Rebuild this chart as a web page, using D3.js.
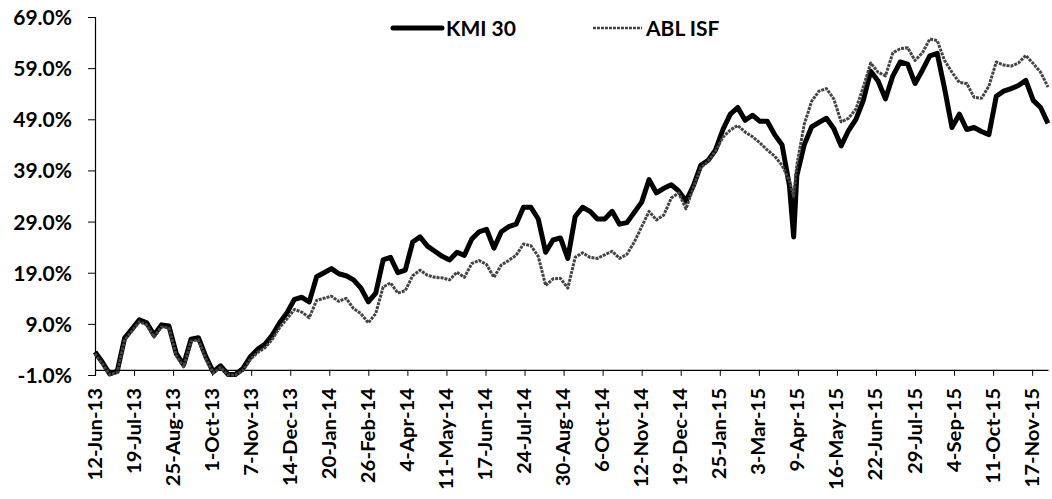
<!DOCTYPE html>
<html>
<head>
<meta charset="utf-8">
<script src="https://cdn.jsdelivr.net/npm/d3@7"></script>
<style>
  body { margin: 0; background: #fff; }
  text { font-family: Lato, "Open Sans", sans-serif; font-weight: bold; fill: #000; }
</style>
</head>
<body>
<script>
// days after 12-Jun-13 for every reading
const dayOffsets = [
  0, 7, 14, 21, 28, 35, 42, 49, 56, 63,
  70, 77, 84, 91, 98, 105, 112, 119, 126, 133,
  140, 147, 154, 161, 168, 175, 182, 189, 196, 203,
  210, 217, 224, 231, 238, 245, 252, 259, 266, 273,
  280, 287, 294, 301, 308, 315, 322, 329, 336, 343,
  350, 357, 364, 371, 378, 385, 392, 399, 406, 413,
  420, 427, 434, 441, 448, 455, 462, 469, 476, 483,
  490, 497, 504, 511, 518, 525, 532, 539, 546, 553,
  560, 567, 574, 581, 588, 595, 602, 609, 616, 623,
  630, 637, 644, 651, 658, 662, 665, 672, 679, 686,
  693, 700, 707, 714, 721, 728, 735, 742, 749, 756,
  763, 770, 777, 784, 791, 798, 805, 812, 819, 826,
  833, 840, 847, 854, 861, 868, 875, 882, 889, 896,
  903
];

// cumulative return, %
const kmi30 = [
  3.5, 1.5, -0.8, -0.3, 6.2, 8.0, 9.8, 9.2, 6.8, 8.8,
  8.6, 3.2, 1.0, 6.0, 6.3, 2.6, -0.4, 0.8, -0.9, -0.9,
  0.2, 2.5, 4.0, 5.0, 6.8, 9.2, 11.2, 13.8, 14.2, 13.3,
  18.2, 19.0, 19.8, 18.8, 18.4, 17.6, 16.0, 13.3, 15.0, 21.5,
  22.0, 19.0, 19.5, 25.0, 26.0, 24.2, 23.2, 22.2, 21.5, 23.0,
  22.4, 25.6, 27.0, 27.5, 23.8, 27.0, 28.0, 28.5, 31.8, 31.8,
  29.5, 23.0, 25.4, 25.8, 21.8, 30.0, 31.8, 31.0, 29.5, 29.5,
  31.0, 28.5, 28.8, 30.8, 32.8, 37.2, 34.6, 35.5, 36.2, 35.0,
  33.0, 36.0, 40.0, 41.0, 43.0, 47.0, 50.0, 51.3, 48.8, 49.8,
  48.6, 48.6, 46.0, 44.0, 36.0, 26.0, 38.0, 44.0, 47.5, 48.4,
  49.2, 47.2, 43.8, 46.8, 49.0, 52.7, 58.4, 56.5, 53.0, 57.5,
  60.2, 59.8, 56.0, 58.6, 61.4, 61.9, 55.0, 47.4, 50.0, 47.0,
  47.4, 46.6, 46.0, 53.5, 54.5, 55.0, 55.6, 56.6, 52.7, 51.3,
  48.2
];

const ablIsf = [
  3.2, 1.2, -0.9, -0.5, 5.8, 7.6, 9.4, 8.8, 6.4, 8.4,
  8.2, 2.8, 0.6, 5.6, 5.9, 2.2, -0.6, 0.5, -1.0, -1.0,
  -0.2, 2.0, 3.4, 4.3, 6.0, 8.3, 10.0, 11.8, 11.3, 10.2,
  13.6, 14.0, 14.4, 13.4, 14.0, 12.0, 11.0, 9.2, 11.0, 16.2,
  17.0, 15.0, 15.5, 18.4, 19.5, 18.5, 18.1, 18.0, 17.6, 19.1,
  18.1, 20.8, 21.4, 20.6, 18.1, 20.5, 21.4, 22.4, 24.6, 24.3,
  22.2, 16.5, 17.8, 17.9, 16.0, 22.0, 22.9, 22.0, 21.8, 22.5,
  23.2, 21.8, 22.6, 25.0, 28.0, 31.0, 29.3, 30.3, 33.6, 34.6,
  31.5, 35.7, 39.5, 40.8, 42.8, 45.5, 46.9, 47.8, 46.5, 45.6,
  44.4, 43.0, 41.8, 40.0, 37.0, 34.0, 40.0, 48.0, 52.5, 54.5,
  55.0, 53.0, 48.5, 49.2, 51.0, 55.3, 60.0, 58.2, 57.5, 62.0,
  62.8, 63.0, 60.5, 62.0, 64.7, 64.4, 60.5, 58.2, 56.2, 56.0,
  53.3, 53.1, 55.5, 60.2, 59.6, 59.4, 60.0, 61.5, 59.9, 58.2,
  55.3
];

const xLabels = [
  '12-Jun-13', '19-Jul-13', '25-Aug-13', '1-Oct-13', '7-Nov-13', '14-Dec-13',
  '20-Jan-14', '26-Feb-14', '4-Apr-14', '11-May-14', '17-Jun-14', '24-Jul-14',
  '30-Aug-14', '6-Oct-14', '12-Nov-14', '19-Dec-14', '25-Jan-15', '3-Mar-15',
  '9-Apr-15', '16-May-15', '22-Jun-15', '29-Jul-15', '4-Sep-15', '11-Oct-15',
  '17-Nov-15'
];
const yTicks = [-1, 9, 19, 29, 39, 49, 59, 69];
const seriesNames = ['KMI 30', 'ABL ISF'];

const width = 1052, height = 499;
const margin = {top: 17, right: 4, bottom: 124, left: 95};

const parse = d3.timeParse('%d-%b-%y');
const start = parse('12-Jun-13');
const dates = dayOffsets.map(d => d3.timeDay.offset(start, d));
const tickDates = xLabels.map(parse);

const svg = d3.select('body').append('svg')
  .attr('width', width)
  .attr('height', height);

// 比例尺
const x = d3.scaleTime()
  .domain([start, d3.max(dates)])
  .range([margin.left, width - margin.right]);

const y = d3.scaleLinear()
  .domain([-1, 69])
  .range([height - margin.bottom, margin.top]);

// y 轴
svg.append('g')
  .attr('transform', `translate(${margin.left},0)`)
  .call(d3.axisLeft(y)
    .tickValues(yTicks)
    .tickSize(7)
    .tickPadding(16)
    .tickFormat(d => d.toFixed(1) + '%'))
  .call(g => g.select('.domain').attr('stroke', '#000').attr('stroke-width', 1.2))
  .call(g => g.selectAll('line').attr('stroke', '#000'))
  .call(g => g.selectAll('text').style('font-size', '21px').attr('dy', '0.36em'));

// x 轴 (crosses at 0%)
svg.append('g')
  .attr('transform', `translate(0,${y(0)})`)
  .call(d3.axisBottom(x)
    .tickValues(tickDates)
    .tickSizeInner(6)
    .tickSizeOuter(0)
    .tickFormat(d3.timeFormat('%-d-%b-%y')))
  .call(g => g.select('.domain').attr('stroke', '#000').attr('stroke-width', 1.2))
  .call(g => g.selectAll('line').attr('stroke', '#000'))
  .call(g => g.selectAll('text')
    .style('font-size', '18px')
    .attr('text-anchor', 'end')
    .attr('dy', null)
    .attr('y', 0)
    .attr('transform', 'translate(6,18) rotate(-90) scale(1.13,1)'));

// 折线
const line = vals => d3.line()
  .x((d, i) => x(dates[i]))
  .y(d => y(d))(vals);

svg.append('path')
  .attr('d', line(kmi30))
  .attr('fill', 'none')
  .attr('stroke', '#000')
  .attr('stroke-width', 5)
  .attr('stroke-linejoin', 'round');

svg.append('path')
  .attr('d', line(ablIsf))
  .attr('fill', 'none')
  .attr('stroke', '#444')
  .attr('stroke-width', 3)
  .attr('stroke-dasharray', '3,1')
  .attr('stroke-linejoin', 'round');

// 图例
const legend = svg.append('g');
const legendX = [393, 593];
seriesNames.forEach((name, i) => {
  const g = legend.append('g').attr('transform', `translate(${legendX[i]},28)`);
  g.append('line')
    .attr('x1', 0).attr('x2', 49)
    .attr('stroke', i === 0 ? '#000' : '#444')
    .attr('stroke-width', i === 0 ? 5 : 2.5)
    .attr('stroke-dasharray', i === 0 ? null : '3,1')
    .attr('stroke-linecap', i === 0 ? 'round' : 'butt');
  g.append('text')
    .attr('x', 53)
    .attr('dy', '0.36em')
    .style('font-size', '21px')
    .text(name);
});
</script>
</body>
</html>
